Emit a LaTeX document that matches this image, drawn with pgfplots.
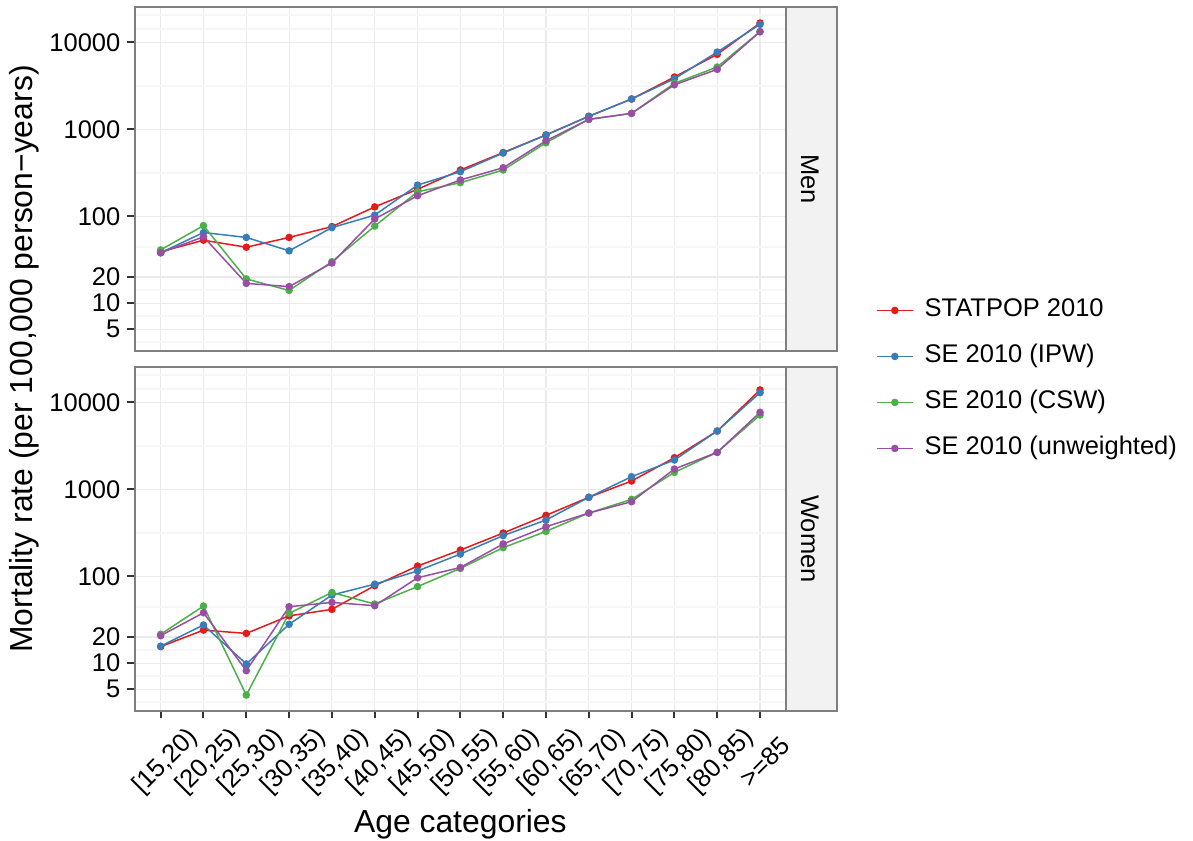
\documentclass[border=0pt]{standalone}
\usepackage{fontspec}
\setmainfont{Liberation Sans}
\usepackage{pgfplots}
\usepackage{pgfplotstable}
\pgfplotsset{compat=1.18}

\definecolor{cRed}{HTML}{E41A1C}
\definecolor{cBlue}{HTML}{377EB8}
\definecolor{cGreen}{HTML}{4DAF4A}
\definecolor{cPurple}{HTML}{984EA3}
\definecolor{gridmaj}{HTML}{EBEBEB}
\definecolor{gridmin}{HTML}{F7F7F7}
\definecolor{panelborder}{HTML}{7F7F7F}
\definecolor{stripbg}{HTML}{F2F2F2}

% mortality per 100,000 person-years, age categories 1..15
\pgfplotstableread{
cat statpop ipw   csw   unw
1   39      38    41    38
2   53      65    78    58
3   44      57    19    16.9
4   57      40    14    15.5
5   76      74    30    29
6   128     103   77    93
7   204     228   191   172
8   340     325   243   261
9   540     533   340   361
10  860     859   700   738
11  1410    1408  1300  1300
12  2230    2228  1524  1524
13  3990    3810  3375  3250
14  7280    7730  5200  4890
15  16680   16100 13250 13250
}\men

\pgfplotstableread{
cat statpop ipw   csw   unw
1   15.5    15.7  21.5  20.7
2   24      27.5  45.4  38
3   22      9.8   4.3   8.2
4   35      28    37.4  44.6
5   41.6    60.8  65    50
6   78      81    47.9  45.8
7   131     115   76    96
8   200     180   123   126
9   314     293   213   235
10  501     443   328   371
11  808     808   533   533
12  1245    1396  766   720
13  2307    2171  1566  1711
14  4677    4677  2660  2660
15  13870   12910 7150  7670
}\women

\newcommand{\ticksize}{\fontsize{12.8}{15}\selectfont}
\newcommand{\titlesize}{\fontsize{16}{19}\selectfont}

\newcommand{\facetstrip}[1]{%
  \fill[stripbg] (rel axis cs:1,0) rectangle ([xshift=25.5bp]rel axis cs:1,1);
  \draw[panelborder, line width=1bp] (rel axis cs:1,0) rectangle ([xshift=25.5bp]rel axis cs:1,1);
  \node[rotate=-90, anchor=base, font=\ticksize, inner sep=0pt] at ([xshift=7.65bp]rel axis cs:1,0.5) {#1};
}

\begin{document}
\begin{tikzpicture}
\useasboundingbox (-67.5bp,-65.15bp) rectangle (529bp,355.35bp);
\pgfplotsset{
  every axis/.append style={
    width=325.35bp, height=171.7bp, scale only axis,
    ymode=log, ymin=2.84, ymax=25290,
    xmin=0.4, xmax=15.6,
    xtick={1,...,15},
    ytick={5,10,20,100,1000,10000},
    yticklabels={5,10,20,100,1000,10000},
    minor ytick={3.6,7.07,14.14,44.7,316.2,3162,14100,20600},
    grid=both,
    major grid style={color=gridmaj, line width=0.55bp},
    minor grid style={color=gridmin, line width=1bp},
    minor tick length=0pt,
    tick align=outside,
    major tick length=3.8bp,
    tick style={color=black!80, line width=1bp},
    xtick pos=left, ytick pos=left,
    axis line style={color=panelborder, line width=1bp},
    ticklabel style={font=\ticksize},
    clip=false,
  },
}

\begin{axis}[at={(0,180bp)}, anchor=south west,
    xticklabels={}, xtick style={draw=none},
    legend cell align=left,
    legend image code/.code={\draw[mark repeat=2,mark phase=2,#1] plot coordinates {(0bp,0bp) (9bp,0bp) (18bp,0bp)};},
    legend style={at={(1.1383,-0.0837)}, anchor=west, draw=none, fill=none,
      font=\ticksize, inner sep=0pt, row sep=10.5bp, column sep=5.5bp,
      nodes={inner sep=0pt, text height=9.5bp, text depth=3bp}},
  ]
  \addplot[color=cRed, mark=*, line width=0.75bp, mark size=1.5bp] table[x=cat,y=statpop] {\men};
  \addlegendentry{STATPOP 2010}
  \addplot[color=cBlue, mark=*, line width=0.75bp, mark size=1.5bp] table[x=cat,y=ipw] {\men};
  \addlegendentry{SE 2010 (IPW)}
  \addplot[color=cGreen, mark=*, line width=0.75bp, mark size=1.5bp] table[x=cat,y=csw] {\men};
  \addlegendentry{SE 2010 (CSW)}
  \addplot[color=cPurple, mark=*, line width=0.75bp, mark size=1.5bp] table[x=cat,y=unw] {\men};
  \addlegendentry{SE 2010 (unweighted)}
  \facetstrip{Men}
\end{axis}

\begin{axis}[at={(0,0)}, anchor=south west,
    xticklabels={{[15,20)},{[20,25)},{[25,30)},{[30,35)},{[35,40)},{[40,45)},{[45,50)},{[50,55)},{[55,60)},{[60,65)},{[65,70)},{[70,75)},{[75,80)},{[80,85)},{>=85}},
    xticklabel style={anchor=center, xshift=2.5bp, yshift=-21.8bp, rotate=45},
    xlabel={Age categories},
    ylabel={Mortality rate (per 100,000 person−years)},
    every axis x label/.style={at={(axis description cs:0.5,-0.35614)}, anchor=base, font=\titlesize},
    every axis y label/.style={at={(axis description cs:-0.15675,1.0242)}, rotate=90, anchor=base, font=\titlesize},
  ]
  \addplot[color=cRed, mark=*, line width=0.75bp, mark size=1.5bp] table[x=cat,y=statpop] {\women};
  \addplot[color=cBlue, mark=*, line width=0.75bp, mark size=1.5bp] table[x=cat,y=ipw] {\women};
  \addplot[color=cGreen, mark=*, line width=0.75bp, mark size=1.5bp] table[x=cat,y=csw] {\women};
  \addplot[color=cPurple, mark=*, line width=0.75bp, mark size=1.5bp] table[x=cat,y=unw] {\women};
  \facetstrip{Women}
\end{axis}
\end{tikzpicture}
\end{document}
